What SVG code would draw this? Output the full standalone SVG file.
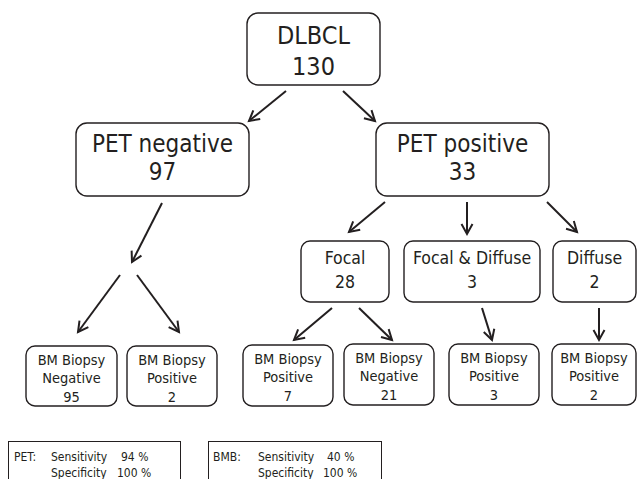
<svg xmlns="http://www.w3.org/2000/svg" width="637" height="479" viewBox="0 0 637 479">
<defs>
<style>
text{font-family:"DejaVu Sans Condensed","DejaVu Sans",sans-serif;font-stretch:condensed;fill:#231f20;text-anchor:middle}
.box{fill:#fff;stroke:#231f20;stroke-width:1.4}
.conn line{stroke:#231f20;stroke-width:2;marker-end:url(#ah)}
.t1{font-size:25px}
.t2{font-size:24px}
.t3{font-size:17.5px}
.t4{font-size:14.5px}
.lg{font-size:12px;text-anchor:start}
</style>
<marker id="ah" markerUnits="userSpaceOnUse" markerWidth="14" markerHeight="14" refX="11" refY="7" orient="auto" viewBox="0 0 14 14">
<path d="M1,1.5 L11,7 L1,12.5" fill="none" stroke="#231f20" stroke-width="2"/>
</marker>
</defs>
<rect width="637" height="479" fill="#fff"/>
<g class="conn">
<line x1="286" y1="91" x2="249" y2="121"/>
<line x1="343" y1="91" x2="375" y2="121"/>
<line x1="162" y1="203" x2="132" y2="262"/>
<line x1="120" y1="275" x2="78" y2="332"/>
<line x1="137" y1="275" x2="179" y2="332"/>
<line x1="385" y1="202" x2="349" y2="232"/>
<line x1="467" y1="202" x2="467" y2="234"/>
<line x1="547" y1="202" x2="577" y2="232"/>
<line x1="332" y1="308" x2="294" y2="340"/>
<line x1="359" y1="308" x2="392" y2="340"/>
<line x1="482" y1="308" x2="492" y2="340"/>
<line x1="599" y1="308" x2="599" y2="340"/>
</g>
<g id="dlbcl"><rect class="box" x="247" y="13" width="133" height="72" rx="11"/><text class="t1" x="313.5" y="44">DLBCL</text><text class="t1" x="313.5" y="75">130</text></g>
<g id="petneg"><rect class="box" x="76" y="123" width="173" height="73" rx="11"/><text class="t2" x="162.5" y="152">PET negative</text><text class="t2" x="162.5" y="180">97</text></g>
<g id="petpos"><rect class="box" x="376" y="123" width="173" height="73" rx="11"/><text class="t2" x="462.5" y="152">PET positive</text><text class="t2" x="462.5" y="180">33</text></g>
<g id="focal"><rect class="box" x="301" y="241" width="88" height="61" rx="9"/><text class="t3" x="345" y="264">Focal</text><text class="t3" x="345" y="288">28</text></g>
<g id="focaldiffuse"><rect class="box" x="404" y="241" width="136" height="61" rx="9"/><text class="t3" x="472" y="264">Focal &amp; Diffuse</text><text class="t3" x="472" y="288">3</text></g>
<g id="diffuse"><rect class="box" x="553" y="241" width="83" height="61" rx="9"/><text class="t3" x="594.5" y="264">Diffuse</text><text class="t3" x="594.5" y="288">2</text></g>
<g id="bm1"><rect class="box" x="26" y="346" width="91" height="60" rx="9"/><text class="t4" x="71.5" y="365">BM Biopsy</text><text class="t4" x="71.5" y="383">Negative</text><text class="t4" x="71.5" y="402">95</text></g>
<g id="bm2"><rect class="box" x="127" y="346" width="90" height="60" rx="9"/><text class="t4" x="172" y="365">BM Biopsy</text><text class="t4" x="172" y="383">Positive</text><text class="t4" x="172" y="402">2</text></g>
<g id="bm3"><rect class="box" x="243" y="345" width="90" height="61" rx="9"/><text class="t4" x="288" y="364">BM Biopsy</text><text class="t4" x="288" y="382">Positive</text><text class="t4" x="288" y="401">7</text></g>
<g id="bm4"><rect class="box" x="344" y="344" width="90" height="61" rx="9"/><text class="t4" x="389" y="363">BM Biopsy</text><text class="t4" x="389" y="381">Negative</text><text class="t4" x="389" y="400">21</text></g>
<g id="bm5"><rect class="box" x="449" y="344" width="90" height="61" rx="9"/><text class="t4" x="494" y="363">BM Biopsy</text><text class="t4" x="494" y="381">Positive</text><text class="t4" x="494" y="400">3</text></g>
<g id="bm6"><rect class="box" x="552" y="344" width="84" height="61" rx="9"/><text class="t4" x="594" y="363">BM Biopsy</text><text class="t4" x="594" y="381">Positive</text><text class="t4" x="594" y="400">2</text></g>
<g id="legendpet"><rect x="8.5" y="441.5" width="172" height="45" fill="#fff" stroke="#231f20" stroke-width="1"/>
<text class="lg" x="14" y="461">PET:</text><text class="lg" x="51" y="461">Sensitivity</text><text class="lg" x="121" y="461">94 %</text>
<text class="lg" x="51" y="477">Specificity</text><text class="lg" x="117" y="477">100 %</text></g>
<g id="legendbmb"><rect x="208.5" y="441.5" width="173" height="45" fill="#fff" stroke="#231f20" stroke-width="1"/>
<text class="lg" x="213" y="461">BMB:</text><text class="lg" x="258" y="461">Sensitivity</text><text class="lg" x="327" y="461">40 %</text>
<text class="lg" x="258" y="477">Specificity</text><text class="lg" x="323" y="477">100 %</text></g>
</svg>
